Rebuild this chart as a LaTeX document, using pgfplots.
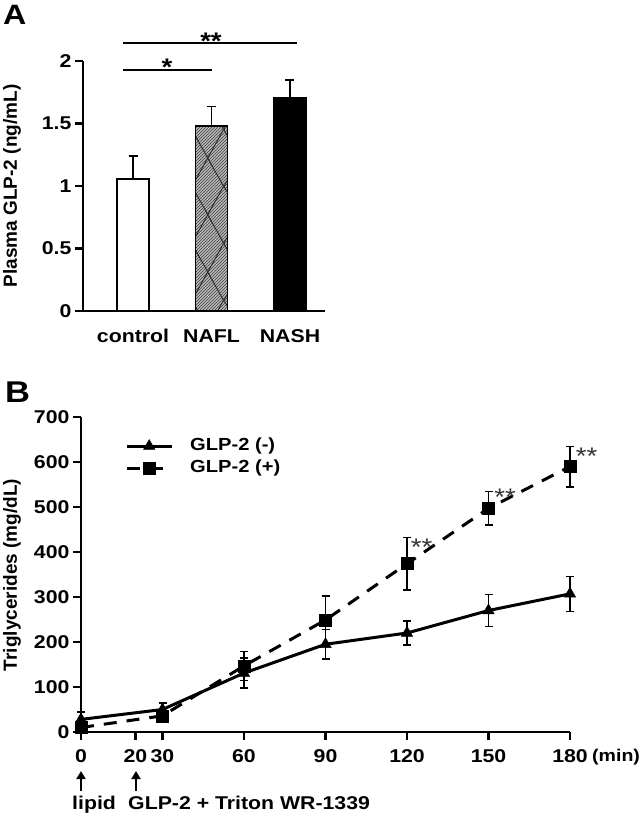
\documentclass[border=0pt]{standalone}
\usepackage{fontspec}
\setmainfont{Liberation Sans}[FakeStretch=1.15]
\newfontfamily\rotfont{Liberation Sans}
\usepackage{pgfplots}
\pgfplotsset{compat=1.18}
\usetikzlibrary{patterns,arrows.meta}
\pgfdeclarepatternformonly{bigdiamond}{\pgfqpoint{0pt}{0pt}}{\pgfqpoint{32pt}{114pt}}{\pgfqpoint{32pt}{114pt}}{%
  \pgfsetlinewidth{0.9pt}%
  \pgfpathmoveto{\pgfqpoint{0pt}{0pt}}\pgfpathlineto{\pgfqpoint{32pt}{57pt}}\pgfpathlineto{\pgfqpoint{0pt}{114pt}}%
  \pgfpathmoveto{\pgfqpoint{32pt}{0pt}}\pgfpathlineto{\pgfqpoint{0pt}{57pt}}\pgfpathlineto{\pgfqpoint{32pt}{114pt}}%
  \pgfusepath{stroke}}
\begin{document}
\begin{tikzpicture}[x=1pt,y=1pt]
\useasboundingbox (0,0) rectangle (644,-813);
\pgfplotsset{
  myaxis/.style={
    scale only axis, clip=false,
    axis x line*=bottom, axis y line*=left,
    axis line style={-, line width=2.6pt, black},
    tick align=outside, major tick length=8pt,
    tick style={line width=2.4pt, black},
    /pgf/number format/assume math mode=true,
    tick label style={font=\fontsize{18.5}{18.5}\selectfont\bfseries},
  }
}
% ---------------- Panel A ----------------
\begin{axis}[myaxis,
  at={(83pt,-311pt)}, anchor=south west,
  width=242pt, height=250pt,
  xmin=-0.637, xmax=2.446, ymin=0, ymax=2,
  ytick={0,0.5,1,1.5,2}, yticklabels={0,0.5,1,1.5,2},
  xtick={0,1,2}, xticklabels={control,NAFL,NASH},
  xtick style={draw=none},
  xticklabel style={yshift=-7pt},
]
\addplot[ybar, bar width=32pt, bar shift=0pt, fill=white, draw=black, line width=1.5pt,
  error bars/.cd, y dir=plus, y explicit,
  error bar style={line width=1.6pt, black},
  error mark options={rotate=90, mark size=4.5pt, line width=1.6pt, black}]
  coordinates {(0,1.055) +- (0,0.185)};
\addplot[ybar, bar width=32pt, bar shift=0pt, fill=gray!55, draw=black, line width=1.5pt,
  postaction={pattern=north east lines, pattern color=black!75},
  postaction={pattern=bigdiamond, pattern color=black!85},
  error bars/.cd, y dir=plus, y explicit,
  error bar style={line width=1.6pt, black},
  error mark options={rotate=90, mark size=4.5pt, line width=1.6pt, black}]
  coordinates {(1,1.48) +- (0,0.155)};
\addplot[ybar, bar width=32pt, bar shift=0pt, fill=black, draw=black, line width=1.5pt,
  error bars/.cd, y dir=plus, y explicit,
  error bar style={line width=1.6pt, black},
  error mark options={rotate=90, mark size=4.5pt, line width=1.6pt, black}]
  coordinates {(2,1.705) +- (0,0.145)};
\draw[line width=1.6pt] (axis cs:-0.127,2.144) -- (axis cs:2.089,2.144);
\draw[line width=1.6pt] (axis cs:-0.127,1.928) -- (axis cs:1.0,1.928);
\end{axis}
% ---------------- Panel B ----------------
\begin{axis}[myaxis,
  at={(81pt,-732pt)}, anchor=south west,
  width=489pt, height=315pt,
  xmin=0, xmax=180, ymin=0, ymax=700,
  xtick={0,20,30,60,90,120,150,180},
  ytick={0,100,200,300,400,500,600,700},
  xticklabel style={yshift=-6pt},
  legend cell align=left,
  legend style={draw=none, fill=none, at={(0.09,0.94)}, anchor=north west,
    inner sep=0pt, row sep=2pt,
    font=\fontsize{17.5}{17.5}\selectfont\bfseries,
    nodes={inner sep=2pt, text height=12pt, text depth=4pt},
    /tikz/every odd column/.append style={column sep=15pt}},
  legend image code/.code={\draw[mark repeat=2,mark phase=2,#1] plot coordinates {(0pt,0pt) (22.5pt,0pt) (45pt,0pt)};},
]
\addplot[black, line width=3pt, mark=triangle*, mark size=6.5pt,
  mark options={solid, line width=0.5pt, fill=black},
  error bars/.cd, y dir=both, y explicit,
  error bar style={line width=1.5pt, black, solid},
  error mark options={rotate=90, mark size=4pt, line width=1.5pt, black, solid}]
  coordinates {(0,28) +- (0,16) (30,50) +- (0,15) (60,131) +- (0,33) (90,195) +- (0,33)
               (120,220) +- (0,27) (150,270) +- (0,36) (180,307) +- (0,39)};
\addlegendentry{GLP-2 (-)}
\addplot[black, line width=3pt, dash pattern=on 13pt off 10pt, mark=square*, mark size=6pt,
  mark options={solid, line width=0.5pt, fill=black},
  error bars/.cd, y dir=both, y explicit,
  error bar style={line width=1.5pt, black, solid},
  error mark options={rotate=90, mark size=4pt, line width=1.5pt, black, solid}]
  coordinates {(0,10) +- (0,8) (30,36) +- (0,10) (60,147) +- (0,32) (90,249) +- (0,53)
               (120,374) +- (0,58) (150,497) +- (0,37) (180,590) +- (0,45)};
\addlegendentry{GLP-2 (+)}
\end{axis}
% ---------------- annotations ----------------
\node[anchor=base west, inner sep=0pt, font=\fontsize{28}{28}\selectfont\bfseries] at (3,-25) {A};
\node[anchor=base west, inner sep=0pt, font=\fontsize{30}{30}\selectfont\bfseries] at (5,-402) {B};
\node[rotate=90, font=\rotfont\fontsize{19}{19}\selectfont\bfseries] at (12,-186) {Plasma GLP-2 (ng/mL)};
\node[rotate=90, font=\rotfont\fontsize{19}{19}\selectfont\bfseries] at (12,-575) {Triglycerides (mg/dL)};
\node[anchor=base, inner sep=0pt, font=\fontsize{24}{24}\selectfont\bfseries] at (211,-50) {**};
\node[anchor=base, inner sep=0pt, font=\fontsize{24}{24}\selectfont\bfseries] at (167,-76) {*};
\node[anchor=base, inner sep=0pt, text=black!80, font=\fontsize{24}{24}\selectfont] at (421.5,-555) {**};
\node[anchor=base, inner sep=0pt, text=black!80, font=\fontsize{24}{24}\selectfont] at (505,-505) {**};
\node[anchor=base, inner sep=0pt, text=black!80, font=\fontsize{24}{24}\selectfont] at (586.5,-464) {**};
\node[anchor=west, inner sep=0pt, font=\fontsize{17}{17}\selectfont\bfseries] at (592,-757) {(min)};
\draw[line width=1.8pt, -{Triangle[width=9pt,length=8pt]}] (81,-791) -- (81,-771);
\draw[line width=1.8pt, -{Triangle[width=9pt,length=8pt]}] (136,-791) -- (136,-771);
\node[anchor=base west, inner sep=0pt, font=\fontsize{18.5}{18.5}\selectfont\bfseries] at (72,-809) {lipid};
\node[anchor=base west, inner sep=0pt, font=\fontsize{18.5}{18.5}\selectfont\bfseries] at (128,-809) {GLP-2 + Triton WR-1339};
\end{tikzpicture}
\end{document}
